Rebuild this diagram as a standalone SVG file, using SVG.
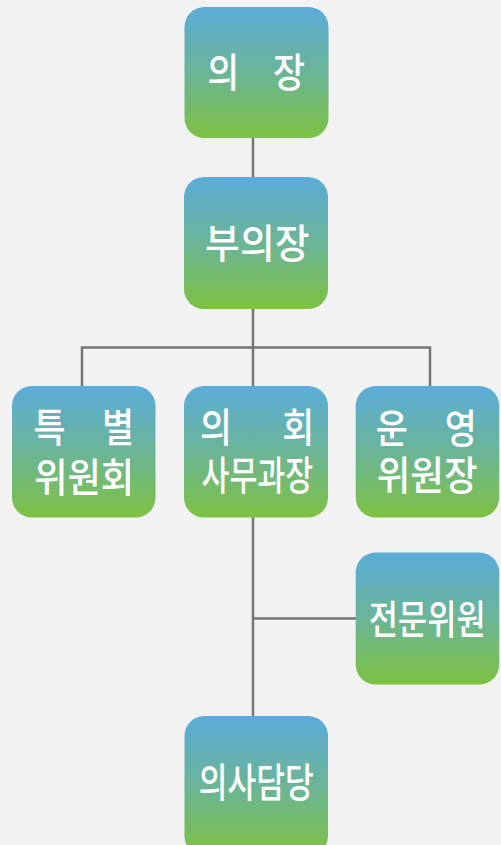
<svg xmlns="http://www.w3.org/2000/svg" width="501" height="845" viewBox="0 0 501 845">
<defs>
<linearGradient id="g" x1="0" y1="0" x2="0" y2="1">
<stop offset="0" stop-color="#5BACDA"/>
<stop offset="0.5" stop-color="#6BB597"/>
<stop offset="1" stop-color="#7EC242"/>
</linearGradient>
<style>
.box{fill:url(#g);}
.t{font-family:"Noto Sans CJK KR","Noto Sans",sans-serif;font-weight:500;font-size:40px;fill:#ffffff;text-anchor:middle;}
.c{stroke:#767676;stroke-width:2.5;fill:none;}
</style>
</defs>
<rect width="501" height="845" fill="#f2f2f2"/>
<g id="connectors">
<path class="c" d="M253 138V177"/>
<path class="c" d="M253 309V386"/>
<path class="c" d="M82 386V347.5H430V386"/>
<path class="c" d="M253 517V716"/>
<path class="c" d="M253 618.5H356"/>
</g>
<g id="n1">
<rect class="box" x="184.5" y="7" width="144" height="131" rx="20"/>
<text class="t" x="223.3" y="87" textLength="32" lengthAdjust="spacingAndGlyphs">의</text>
<text class="t" x="289" y="87" textLength="32" lengthAdjust="spacingAndGlyphs">장</text>
</g>
<g id="n2">
<rect class="box" x="184" y="177" width="144" height="132" rx="20"/>
<text class="t" x="257.3" y="258" textLength="104.5" lengthAdjust="spacingAndGlyphs">부의장</text>
</g>
<g id="n3">
<rect class="box" x="12" y="386" width="143.5" height="131.5" rx="20"/>
<text class="t" x="49.5" y="442" textLength="32" lengthAdjust="spacingAndGlyphs">특</text>
<text class="t" x="118" y="442" textLength="32" lengthAdjust="spacingAndGlyphs">별</text>
<text class="t" x="84.2" y="492" textLength="100" lengthAdjust="spacingAndGlyphs">위원회</text>
</g>
<g id="n4">
<rect class="box" x="184" y="386" width="144" height="131.5" rx="20"/>
<text class="t" x="216" y="442" textLength="32" lengthAdjust="spacingAndGlyphs">의</text>
<text class="t" x="298.3" y="442" textLength="32" lengthAdjust="spacingAndGlyphs">회</text>
<text class="t" x="257.3" y="490" textLength="111.5" lengthAdjust="spacingAndGlyphs">사무과장</text>
</g>
<g id="n5">
<rect class="box" x="355.7" y="386" width="143.5" height="131.5" rx="20"/>
<text class="t" x="391.7" y="443" textLength="32" lengthAdjust="spacingAndGlyphs">운</text>
<text class="t" x="460.8" y="443" textLength="32" lengthAdjust="spacingAndGlyphs">영</text>
<text class="t" x="427.2" y="490" textLength="101" lengthAdjust="spacingAndGlyphs">위원장</text>
</g>
<g id="n6">
<rect class="box" x="355.7" y="552.5" width="143.5" height="132" rx="20"/>
<text class="t" x="427.2" y="634" textLength="117" lengthAdjust="spacingAndGlyphs">전문위원</text>
</g>
<g id="n7">
<rect class="box" x="184.5" y="716" width="143.5" height="140" rx="20"/>
<text class="t" x="256.2" y="797" textLength="115" lengthAdjust="spacingAndGlyphs">의사담당</text>
</g>
</svg>
